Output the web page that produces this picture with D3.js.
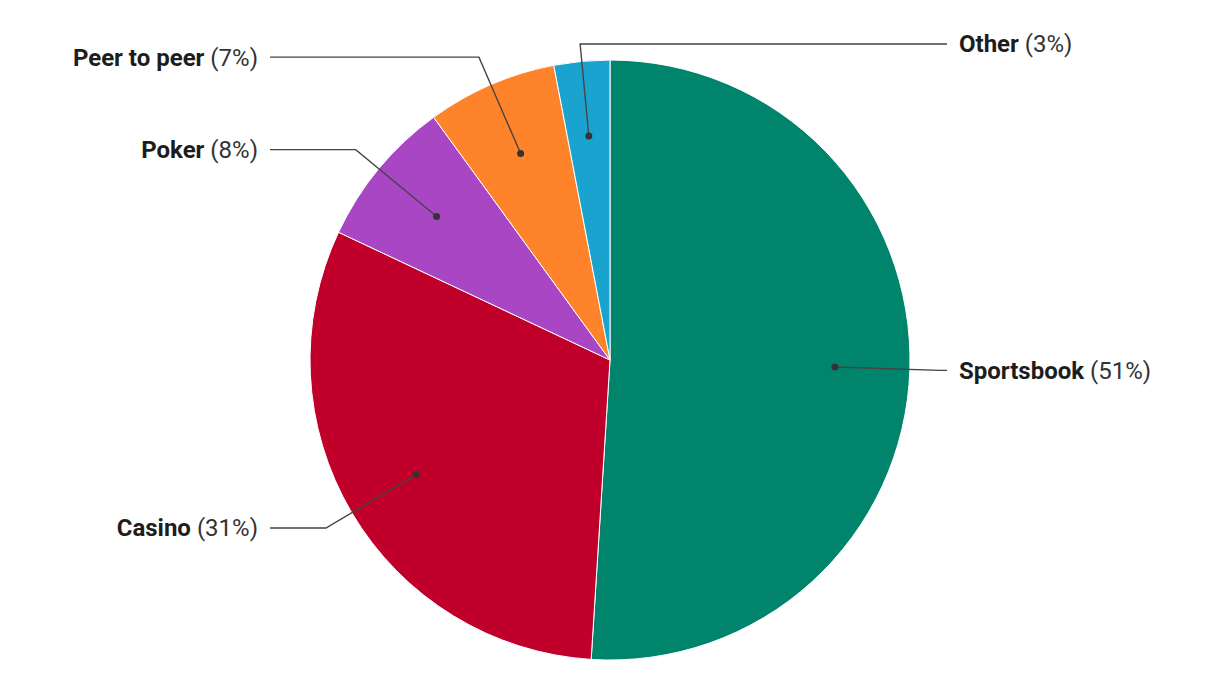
<!DOCTYPE html>
<html>
<head>
<meta charset="utf-8">
<script src="https://cdn.jsdelivr.net/npm/d3@7"></script>
<style>
  html, body { margin: 0; padding: 0; background: #fff; }
  svg text { font-family: Roboto, "Noto Sans", sans-serif; }
</style>
</head>
<body>
<svg id="chart" width="1220" height="700"></svg>
<script>
const categories = ["Sportsbook", "Casino", "Poker", "Peer to peer", "Other"];
const values = [51, 31, 8, 7, 3];
const colors = ["#00846b", "#c0002a", "#a846c4", "#ff832a", "#1ba3d0"];

const width = 1220, height = 700;
const cx = 610, cy = 360, R = 300;
const dotR = 225, elbowR = 330;
const leftX = 270, rightX = 947, labelGap = 12, minY = 44;

const data = categories.map((c, i) => ({ name: c, value: values[i], color: colors[i] }));

const svg = d3.select("#chart");
const g = svg.append("g").attr("transform", `translate(${cx},${cy})`);

const pie = d3.pie().sort(null).value(d => d.value);
const arcs = pie(data);
const arc = d3.arc().innerRadius(0).outerRadius(R);

g.selectAll("path.slice")
  .data(arcs)
  .join("path")
  .attr("class", "slice")
  .attr("d", arc)
  .attr("fill", d => d.data.color)
  .attr("stroke", "#fff")
  .attr("stroke-width", 1);

function polar(a, r) { return [r * Math.sin(a), -r * Math.cos(a)]; }

const labels = arcs.map(d => {
  const mid = (d.startAngle + d.endAngle) / 2;
  const dot = polar(mid, dotR);
  let elbow = polar(mid, elbowR);
  if (elbow[1] + cy < minY) {
    const k = (minY - cy) / elbow[1];
    elbow = [elbow[0] * k, minY - cy];
  }
  const right = elbow[0] > -40;
  const endX = (right ? rightX : leftX) - cx;
  return { d, dot, elbow, endX, right };
});

g.selectAll("path.leader")
  .data(labels)
  .join("path")
  .attr("class", "leader")
  .attr("d", l => d3.line()([l.dot, l.elbow, [l.endX, l.elbow[1]]]))
  .attr("fill", "none")
  .attr("stroke", "#444")
  .attr("stroke-width", 1.4);

g.selectAll("circle.dot")
  .data(labels)
  .join("circle")
  .attr("class", "dot")
  .attr("cx", l => l.dot[0])
  .attr("cy", l => l.dot[1])
  .attr("r", 3.5)
  .attr("fill", "#333");

const t = g.selectAll("text.lbl")
  .data(labels)
  .join("text")
  .attr("class", "lbl")
  .attr("x", l => l.endX + (l.right ? labelGap : -labelGap))
  .attr("y", l => l.elbow[1])
  .attr("dy", "0.35em")
  .attr("text-anchor", l => l.right ? "start" : "end")
  .attr("font-size", 24)
  .attr("fill", "#1d1d1d");
t.append("tspan").attr("font-weight", 700).text(l => l.d.data.name);
t.append("tspan").attr("font-weight", 400).attr("fill", "#333").text(l => ` (${l.d.data.value}%)`);
</script>
</body>
</html>
